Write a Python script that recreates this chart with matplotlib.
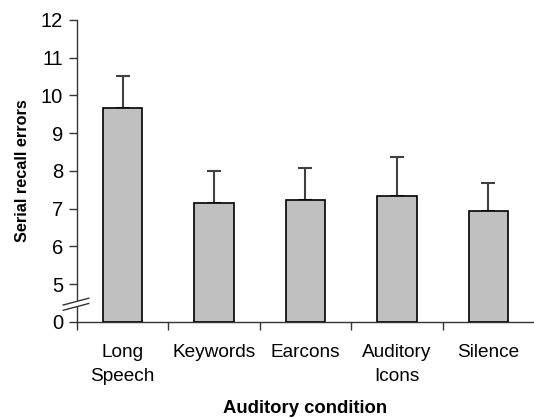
"""Serial recall errors by auditory condition, bar chart with broken y axis."""
import matplotlib
matplotlib.use("Agg")
import matplotlib.pyplot as plt

plt.rcParams["font.family"] = ["Liberation Sans", "DejaVu Sans"]

# data
conditions = ["Long\nSpeech", "Keywords", "Earcons", "Auditory\nIcons", "Silence"]
means = [9.67, 7.15, 7.22, 7.35, 6.94]
err_up = [0.84, 0.86, 0.86, 1.01, 0.75]
ytick_values = [0, 5, 6, 7, 8, 9, 10, 11, 12]

# broken axis: 0 sits one unit below 5
offset = 4


def to_axis(v):
    return v - offset if v >= 5 else v


fig = plt.figure(figsize=(5.34, 4.18), dpi=100)
ax = fig.add_axes([0.144, 0.2297, 0.856, 0.7225])

x = list(range(len(conditions)))
heights = [to_axis(m) for m in means]
ax.bar(x, heights, width=0.43, color="#c0c0c0", edgecolor="black", linewidth=1.2, zorder=3)
ax.errorbar(x, heights, yerr=[[0] * len(err_up), err_up], fmt="none",
            ecolor="#404040", elinewidth=1.5, capsize=5, capthick=1.5, zorder=2)

ax.set_xlim(-0.5, len(conditions) - 0.5)
ax.set_ylim(0, to_axis(12))
ax.set_yticks([to_axis(v) for v in ytick_values])
ax.set_yticklabels([str(v) for v in ytick_values])
ax.set_xticks([i - 0.5 for i in range(len(conditions))])
ax.set_xticklabels([])
ax.set_xticks(x, minor=True)
ax.set_xticklabels(conditions, minor=True, fontsize=13.7, linespacing=1.55)
ax.tick_params(axis="x", which="minor", length=0, pad=16)
ax.tick_params(axis="x", which="major", length=6, width=1, color="#333333", direction="out")
ax.tick_params(axis="y", length=6, width=1, color="#333333", labelsize=14.5, pad=4)

for s in ["top", "right"]:
    ax.spines[s].set_visible(False)
for s in ["left", "bottom"]:
    ax.spines[s].set_color("#333333")
    ax.spines[s].set_linewidth(1)

ax.set_ylabel("Serial recall errors", fontsize=11.7, fontweight="bold", labelpad=8)
ax.set_xlabel("Auditory condition", fontsize=13.3, fontweight="bold", va="baseline")
ax.xaxis.set_label_coords(0.5, -0.3013)

# break marks on the y axis
brk = 0.5
ax.plot([-0.65, -0.37], [brk - 0.12, brk + 0.06], transform=ax.transData,
        color="white", linewidth=4, clip_on=False, zorder=5)
for dy in (-0.07, 0.07):
    ax.plot([-0.65, -0.37], [brk - 0.12 + dy, brk + 0.06 + dy], color="#333333",
            linewidth=1, clip_on=False, zorder=6)

fig.savefig("out.png", dpi=100)
